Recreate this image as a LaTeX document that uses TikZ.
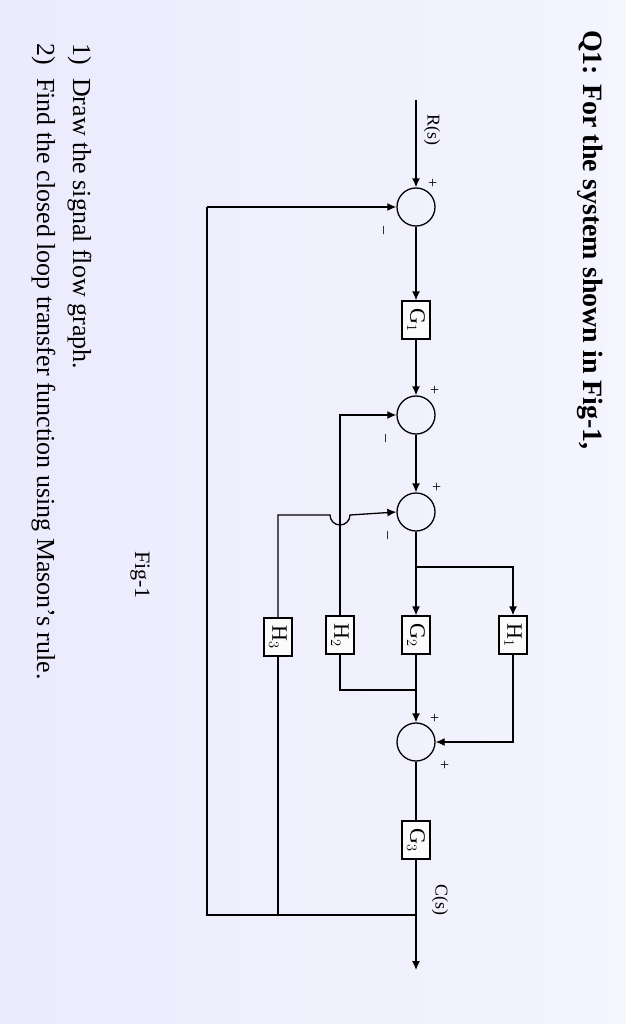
\documentclass[tikz,border=0pt]{standalone}
\usepackage{fontspec}
\setmainfont{Liberation Serif}
\usetikzlibrary{arrows.meta}
\begin{document}
\begin{tikzpicture}[x=1pt,y=-1pt,>={Latex[length=9pt,width=8pt]},
  blk/.style={draw,line width=1.3pt,fill=white!70!gray!10,minimum width=28pt,minimum height=38pt,inner sep=0pt,font=\fontsize{22}{24}\selectfont},
  sumc/.style={draw,line width=1.3pt,circle,minimum size=38pt,inner sep=0pt},
  sg/.style={font=\fontsize{16}{18}\selectfont,rotate=-90},
  ln/.style={line width=1.3pt}]
\fill[left color=black!12!blue!8,right color=black!8!blue!4] (0,0) rectangle (625,1024);
\useasboundingbox (0,0) rectangle (625,1024);
\node[rotate=-90,font=\bfseries\fontsize{28}{30}\selectfont] (title) at (590,240) {Q1: For the system shown in Fig-1,};
\node[rotate=-90,font=\fontsize{26}{28}\selectfont,anchor=south west] (q1) at (64,40) {1)\ \ Draw the signal flow graph.};
\node[rotate=-90,font=\fontsize{26}{28}\selectfont,anchor=south west] (q2) at (28,40) {2)\ \ Find the closed loop transfer function using Mason's rule.};
\node[rotate=-90,font=\fontsize{22}{24}\selectfont] (fig) at (140,575) {Fig-1};
\node[sumc] (s1) at (416,207) {};
\node[sumc] (s2) at (416,415) {};
\node[sumc] (s3) at (416,512) {};
\node[sumc] (s4) at (416,742) {};
\node[blk] (g1) at (416,320) {\rotatebox{-90}{G$_1$}};
\node[blk] (g2) at (416,635) {\rotatebox{-90}{G$_2$}};
\node[blk] (g3) at (416,840) {\rotatebox{-90}{G$_3$}};
\node[blk] (h1) at (513,635) {\rotatebox{-90}{H$_1$}};
\node[blk] (h2) at (340,635) {\rotatebox{-90}{H$_2$}};
\node[blk] (h3) at (278,637) {\rotatebox{-90}{H$_3$}};
\coordinate (rin) at (416,100);
\coordinate (cout) at (416,970);
\coordinate (pout) at (416,915);
\coordinate (fbl) at (207,915);
\coordinate (fbt) at (207,207);
\coordinate (br1) at (416,567);
\coordinate (br1r) at (513,567);
\coordinate (h1b) at (513,742);
\coordinate (h2t) at (340,415);
\coordinate (h2b) at (340,690);
\coordinate (h2j) at (416,690);
\coordinate (h3t) at (278,515);
\coordinate (h3b) at (278,915);
\node[rotate=-90,font=\fontsize{18}{20}\selectfont] (rl) at (432,130) {R(s)};
\node[rotate=-90,font=\fontsize{18}{20}\selectfont] (cl) at (440,900) {C(s)};
\draw[ln,->] (rin) -- (s1.north);
\draw[ln,->] (fbt) -- (s1.west);
\draw[ln] (pout) -- (fbl) -- (fbt);
\draw[ln,->] (s1.south) -- (g1.north);
\draw[ln,->] (g1.south) -- (s2.north);
\draw[ln,->] (s2.south) -- (s3.north);
\draw[ln,->] (s3.south) -- (g2.north);
\draw[ln,->] (br1) -- (br1r) -- (h1.north);
\draw[ln,->] (h1.south) -- (h1b) -- (s4.east);
\draw[ln,->] (g2.south) -- (s4.north);
\draw[ln] (s4.south) -- (g3.north);
\draw[ln,->] (g3.south) -- (cout);
\draw[ln] (h2j) -- (h2b) -- (h2.south);
\draw[ln,->] (h2.north) -- (h2t) -- (s2.west);
\draw[ln] (h3b) -- (h3.south);
\draw[ln,->] (h3.north) -- (h3t) -- (330,515) arc[start angle=180,end angle=0,radius=10] -- (s3.west);
\node[sg] at (432,183) {+};
\node[sg] at (382,230) {--};
\node[sg] at (434,390) {+};
\node[sg] at (384,438) {--};
\node[sg] at (436,487) {+};
\node[sg] at (386,535) {--};
\node[sg] at (434,718) {+};
\node[sg] at (444,765) {+};
\end{tikzpicture}
\end{document}
